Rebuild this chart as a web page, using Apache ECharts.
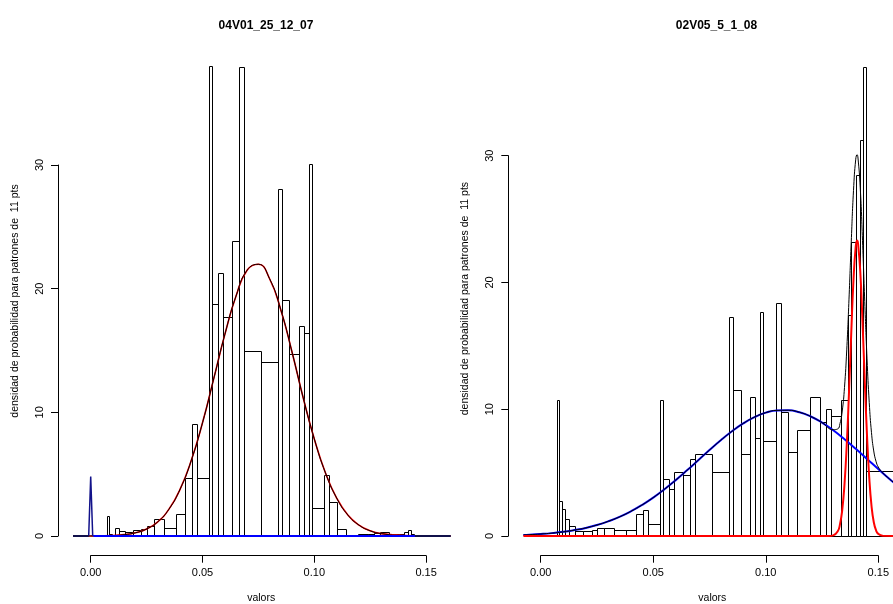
<!DOCTYPE html>
<html><head><meta charset="utf-8">
<script src="https://cdn.jsdelivr.net/npm/echarts@6/dist/echarts.min.js"></script>
<style>html,body{margin:0;padding:0;background:#fff}#c{width:893px;height:604px}</style>
</head><body><div id="c"></div>
<script>
// ---------- data ----------
const leftTitle = '04V01_25_12_07';
const rightTitle = '02V05_5_1_08';
const xName = 'valors';
const yName = 'densidad de probabilidad para patrones de  11 pts';
const xTicks = [0, 0.05, 0.10, 0.15];
const yTicks = [0, 10, 20, 30];

// shared histogram breaks
const breaks = [0.0074, 0.0083, 0.0094, 0.0107, 0.0127, 0.0154, 0.0190, 0.0227, 0.0252, 0.0283,
  0.0326, 0.0380, 0.0423, 0.0455, 0.0476, 0.0531, 0.0542, 0.0569, 0.0591, 0.0632,
  0.0664, 0.0685, 0.0762, 0.0837, 0.0856, 0.0889, 0.0930, 0.0952, 0.0976, 0.0990,
  0.1045, 0.1066, 0.1100, 0.1141, 0.1196, 0.1239, 0.1266, 0.1292, 0.1333, 0.1366,
  0.1378, 0.1403, 0.1420, 0.1434, 0.1445, 0.1700];
const leftHeights = [1.62, 0.2, 0, 0.65, 0.38, 0.3, 0.45, 0.54, 0.84, 1.36,
  0.61, 1.76, 4.73, 9.06, 4.7, 38.0, 18.76, 21.24, 17.68, 23.85,
  37.94, 14.93, 14.07, 28.05, 19.1, 14.7, 16.98, 16.39, 30.1, 2.24,
  4.9, 2.72, 0.54, 0.1, 0.15, 0.2, 0.25, 0.3, 0.13, 0.13,
  0.17, 0.32, 0.48, 0.2, 0];
const rightHeights = [10.73, 2.73, 2.1, 1.31, 0.81, 0.36, 0.36, 0.44, 0.62, 0.67,
  0.45, 0.51, 1.71, 2.07, 0.92, 10.73, 4.52, 3.68, 5.03, 4.8,
  6.05, 6.44, 5.02, 17.24, 11.51, 6.44, 10.94, 7.7, 17.64, 7.49,
  18.4, 9.75, 6.6, 8.33, 10.99, 9.02, 10.02, 9.49, 10.73, 17.43,
  23.2, 28.5, 31.2, 37.0, 5.13];

// left panel fitted curve
const leftFitX = [-0.0079, 0, 0.01, 0.015, 0.02, 0.025, 0.03, 0.035, 0.04, 0.045, 0.05, 0.055, 0.06, 0.065,
  0.07, 0.075, 0.08, 0.085, 0.09, 0.095, 0.1, 0.105, 0.11, 0.115, 0.12, 0.125, 0.13, 0.14, 0.15, 0.161];
const leftFitY = [0, 0.005, 0.04, 0.11, 0.26, 0.57, 1.15, 2.17, 3.79, 6.12, 9.15, 12.7, 16.3, 19.4,
  21.5, 21.97, 20.8, 18.3, 14.9, 11.2, 7.85, 5.1, 3.07, 1.70, 0.88, 0.42, 0.19, 0.03, 0, 0];
const leftSpikeX = [-0.0009, 0, 0.0009];
const leftSpikeY = [0, 4.8, 0];
const leftBaseX = [0.0012, 0.145];
const leftBaseY = [0, 0];
const leftEdgeX = [-0.0079, -0.0009, null, 0.145, 0.161];
const leftEdgeY = [0, 0, null, 0, 0];

// right panel components
const rightBlueX = [-0.0077, -0.005, 0, 0.005, 0.01, 0.015, 0.02, 0.025, 0.03, 0.035, 0.04, 0.045, 0.05,
  0.055, 0.06, 0.065, 0.07, 0.075, 0.08, 0.085, 0.09, 0.095, 0.1, 0.105, 0.11, 0.115, 0.12, 0.125,
  0.13, 0.135, 0.14, 0.145, 0.15, 0.155, 0.16];
const rightBlueY = [0.09, 0.11, 0.16, 0.23, 0.33, 0.47, 0.64, 0.87, 1.16, 1.51, 1.94, 2.45, 3.03,
  3.69, 4.41, 5.18, 5.98, 6.78, 7.55, 8.26, 8.88, 9.38, 9.73, 9.91, 9.92, 9.76, 9.43, 8.95,
  8.34, 7.64, 6.88, 6.08, 5.28, 4.50, 3.77];
const rightRedX = [-0.0077, 0.128, 0.130, 0.132, 0.133, 0.134, 0.135, 0.136, 0.137, 0.138, 0.139, 0.140,
  0.1406, 0.141, 0.142, 0.143, 0.144, 0.145, 0.146, 0.147, 0.148, 0.149, 0.150, 0.152, 0.16];
const rightRedY = [0, 0, 0.05, 0.38, 0.94, 2.07, 4.08, 7.19, 11.34, 16.0, 20.21, 22.84,
  23.3, 23.09, 20.9, 16.92, 12.26, 7.95, 4.61, 2.39, 1.11, 0.46, 0.17, 0.02, 0];
const rightMixX = [-0.0077, -0.005, 0, 0.005, 0.01, 0.015, 0.02, 0.025, 0.03, 0.035, 0.04, 0.045, 0.05,
  0.055, 0.06, 0.065, 0.07, 0.075, 0.08, 0.085, 0.09, 0.095, 0.1, 0.105, 0.11, 0.115, 0.12, 0.125,
  0.130, 0.132, 0.133, 0.134, 0.135, 0.136, 0.137, 0.138, 0.139, 0.140, 0.1406, 0.141, 0.142, 0.143,
  0.144, 0.145, 0.146, 0.147, 0.148, 0.149, 0.150, 0.152, 0.155, 0.16];
const rightMixY = [0.09, 0.11, 0.16, 0.23, 0.33, 0.47, 0.64, 0.87, 1.16, 1.51, 1.94, 2.45, 3.03,
  3.69, 4.41, 5.18, 5.98, 6.78, 7.55, 8.26, 8.88, 9.38, 9.73, 9.91, 9.92, 9.76, 9.43, 8.95,
  8.39, 8.45, 8.87, 9.86, 11.72, 14.68, 18.68, 23.19, 27.24, 29.72, 30.08, 29.81, 27.46, 23.32,
  18.50, 14.03, 10.53, 8.15, 6.71, 5.90, 5.45, 4.98, 4.50, 3.77];

// ---------- chart ----------
const FONT = '"Liberation Sans", Arial, Helvetica, sans-serif';
const zip = (xs, ys) => xs.map((x, i) => (x === null ? [null, null] : [x, ys[i]]));
const bins = (hs) => hs.map((h, i) => [breaks[i], breaks[i + 1], h]).filter(d => d[2] > 0);

function histItem(params, api) {
  const x0 = api.value(0), x1 = api.value(1), h = api.value(2);
  const p0 = api.coord([x0, h]);
  const p1 = api.coord([x1, 0]);
  return {
    type: 'rect',
    shape: { x: Math.round(p0[0]) + 0.5, y: Math.round(p0[1]) + 0.5,
             width: Math.round(p1[0]) - Math.round(p0[0]), height: Math.round(p1[1]) - Math.round(p0[1]) },
    style: { fill: 'none', stroke: '#000', lineWidth: 1 }
  };
}

// panel geometry (pixel layout)
const panels = [
  { title: leftTitle, dataGrid: { left: 71.7, top: 46.2, width: 379.0, height: 509.6 },
    xr: [-0.0085, 0.161], yr: [-1.6, 39.6],
    xAxisGrid: { left: 90.7, width: 335.4, top: 554, height: 1.7 },
    yAxisGrid: { left: 58, width: 1, top: 165, height: 371 }, titleX: 261 },
  { title: rightTitle, dataGrid: { left: 521.6, top: 41.5, width: 381.4, height: 514.2 },
    xr: [-0.0085, 0.161], yr: [-1.55, 39],
    xAxisGrid: { left: 540.7, width: 337.6, top: 554, height: 1.7 },
    yAxisGrid: { left: 508.3, width: 1, top: 155.7, height: 380.3 }, titleX: 711.5 }
];

const grid = [], xAxis = [], yAxis = [], title = [];
const axisText = { color: '#000', fontSize: 11, fontFamily: FONT };
const nameText = { color: '#000', fontSize: 10.5, fontFamily: FONT };
const noBounds = g => ({ ...g, containLabel: false, outerBoundsMode: 'none' });
panels.forEach((p, k) => {
  const g0 = grid.length;
  grid.push(noBounds(p.dataGrid), noBounds(p.xAxisGrid), noBounds(p.yAxisGrid));
  // data axes
  xAxis.push({ gridIndex: g0, type: 'value', min: p.xr[0], max: p.xr[1],
    axisLine: { show: false }, axisTick: { show: false }, axisLabel: { show: false }, splitLine: { show: false },
    name: xName, nameLocation: 'middle', nameGap: 37, nameTextStyle: nameText });
  yAxis.push({ gridIndex: g0, type: 'value', min: p.yr[0], max: p.yr[1],
    axisLine: { show: false }, axisTick: { show: false }, axisLabel: { show: false }, splitLine: { show: false },
    name: yName, nameLocation: 'middle', nameGap: 51, nameTextStyle: nameText });
  // visible x axis
  xAxis.push({ gridIndex: g0 + 1, type: 'value', min: xTicks[0], max: xTicks[xTicks.length - 1],
    interval: xTicks[1] - xTicks[0],
    axisLine: { show: true, lineStyle: { color: '#000', width: 1 } },
    axisTick: { show: true, length: 7, lineStyle: { color: '#000' } },
    axisLabel: { ...axisText, margin: 12, formatter: v => v.toFixed(2) },
    splitLine: { show: false } });
  yAxis.push({ gridIndex: g0 + 1, type: 'value', show: false });
  // visible y axis
  xAxis.push({ gridIndex: g0 + 2, type: 'value', show: false });
  yAxis.push({ gridIndex: g0 + 2, type: 'value', min: yTicks[0], max: yTicks[yTicks.length - 1],
    interval: yTicks[1] - yTicks[0],
    axisLine: { show: true, lineStyle: { color: '#000', width: 1 } },
    axisTick: { show: true, length: 7, lineStyle: { color: '#000' } },
    axisLabel: { ...axisText, margin: 13, rotate: 90, formatter: v => String(v) },
    splitLine: { show: false } });
  title.push({ text: p.title, left: p.titleX, top: 15, textAlign: 'center',
    textStyle: { color: '#000', fontSize: 12, fontWeight: 'bold', fontFamily: FONT } });
});

const lineS = (axisIdx, data, color, width) => ({
  type: 'line', xAxisIndex: axisIdx, yAxisIndex: axisIdx, data, showSymbol: false, symbol: 'none',
  smooth: 0.5, clip: true, silent: true, connectNulls: false,
  lineStyle: { color, width }, z: 3
});

const series = [
  { type: 'custom', xAxisIndex: 0, yAxisIndex: 0, renderItem: histItem, data: bins(leftHeights),
    encode: { x: [0, 1], y: 2 }, clip: true, silent: true, z: 2 },
  lineS(0, zip(leftFitX, leftFitY), '#ff0000', 1.6),
  lineS(0, zip(leftFitX, leftFitY), '#000000', 1),
  { ...lineS(0, zip(leftSpikeX, leftSpikeY), '#12128a', 1.5), smooth: false },
  { ...lineS(0, zip(leftBaseX, leftBaseY), '#0000ff', 2), smooth: false },
  { ...lineS(0, zip(leftEdgeX, leftEdgeY), '#10104a', 2), smooth: false },
  { type: 'custom', xAxisIndex: 3, yAxisIndex: 3, renderItem: histItem, data: bins(rightHeights),
    encode: { x: [0, 1], y: 2 }, clip: true, silent: true, z: 2 },
  lineS(3, zip(rightBlueX, rightBlueY), '#0000ff', 2),
  lineS(3, zip(rightMixX, rightMixY), '#000000', 1),
  lineS(3, zip(rightRedX, rightRedY), '#ff0000', 2)
];

const chart = echarts.init(document.getElementById('c'), null, { renderer: 'canvas' });
chart.setOption({
  animation: false,
  backgroundColor: '#ffffff',
  textStyle: { fontFamily: FONT },
  title, grid, xAxis, yAxis, series
});
</script>
</body></html>
